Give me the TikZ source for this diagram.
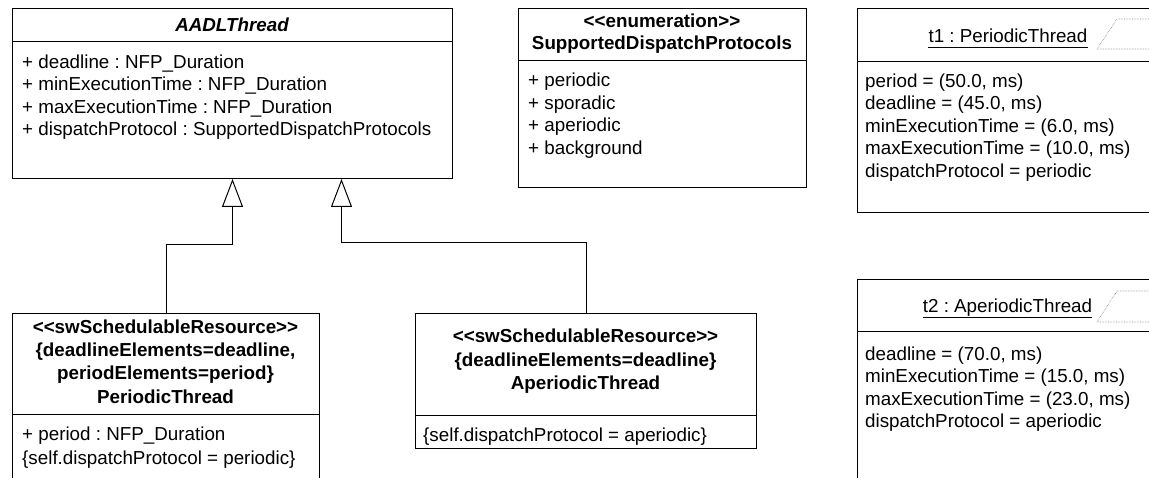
\documentclass[tikz,border=0pt]{standalone}
\usepackage{fontspec}
\setmainfont{Liberation Sans}[Ligatures=TeXOff]
\usetikzlibrary{arrows.meta}
\frenchspacing
\begin{document}
\begin{tikzpicture}[x=1pt,y=-1pt,
  umlbox/.style={draw, line width=1pt, rectangle, anchor=north west, inner sep=0pt},
  txt/.style={inner sep=0pt, anchor=base west, font=\fontsize{18.8}{22.5}\selectfont\frenchspacing},
  ctxt/.style={inner sep=0pt, anchor=base, font=\fontsize{18.8}{22.5}\selectfont\bfseries\frenchspacing},
  divider/.style={line width=1pt},
  gen/.style={line width=1pt, -{Triangle[open, length=28pt, width=21pt]}},
  para/.style={draw=gray, line width=0.6pt, densely dotted}]
\useasboundingbox (0,0) rectangle (1149,478);
\clip (0,0) rectangle (1149,478);
% boxes
\node[umlbox, minimum width=440pt, minimum height=170pt] (aadl) at (12,8) {};
\node[umlbox, minimum width=288pt, minimum height=179pt] (enum) at (518,8) {};
\node[umlbox, minimum width=320pt, minimum height=204pt] (t1) at (857,8) {};
\node[umlbox, minimum width=320pt, minimum height=230pt] (t2) at (857,279) {};
\node[umlbox, minimum width=307pt, minimum height=200pt] (pt) at (12,313) {};
\node[umlbox, minimum width=341pt, minimum height=135pt] (ap) at (415,313) {};
% dividers
\draw[divider] (aadl.west |- 0,42) -- (aadl.east |- 0,42);
\draw[divider] (enum.west |- 0,61) -- (enum.east |- 0,61);
\draw[divider] (t1.west |- 0,62) -- (t1.east |- 0,62);
\draw[divider] (t2.west |- 0,332) -- (t2.east |- 0,332);
\draw[divider] (pt.west |- 0,414) -- (pt.east |- 0,414);
\draw[divider] (ap.west |- 0,415) -- (ap.east |- 0,415);
% AADLThread
\node[ctxt, font=\fontsize{18.8}{22.5}\selectfont\bfseries\itshape] (aadlt) at (232,32) {AADLThread};
\foreach \s [count=\i] in {{+ deadline : NFP\_Duration},{+ minExecutionTime : NFP\_Duration},{+ maxExecutionTime : NFP\_Duration},{+ dispatchProtocol : SupportedDispatchProtocols}}
  \node[txt] (aadl-\i) at (22,{68.3+22.5*(\i-1)}) {\s};
% enumeration
\node[ctxt] (enums) at (662,27.7) {<<enumeration>>};
\node[ctxt] (enumt) at (662,50) {SupportedDispatchProtocols};
\foreach \s [count=\i] in {{+ periodic},{+ sporadic},{+ aperiodic},{+ background}}
  \node[txt] (enum-\i) at (528,{86.7+22.5*(\i-1)}) {\s};
% t1
\node[txt, anchor=base] (t1t) at (1008,43) {t1 : PeriodicThread};
\draw[line width=0.8pt] ([yshift=-4pt]t1t.base west) -- ([yshift=-4pt]t1t.base east);
\draw[para] (1097,49) -- (1117,19) -- (1170,19) -- (1150,49) -- cycle;
\foreach \s [count=\i] in {{period = (50.0, ms)},{deadline = (45.0, ms)},{minExecutionTime = (6.0, ms)},{maxExecutionTime = (10.0, ms)},{dispatchProtocol = periodic}}
  \node[txt] (t1-\i) at (865,{87.3+22.5*(\i-1)}) {\s};
% t2
\node[txt, anchor=base] (t2t) at (1007.5,313) {t2 : AperiodicThread};
\draw[line width=0.8pt] ([yshift=-4pt]t2t.base west) -- ([yshift=-4pt]t2t.base east);
\draw[para] (1097,322) -- (1117,291) -- (1170,291) -- (1150,322) -- cycle;
\foreach \s [count=\i] in {{deadline = (70.0, ms)},{minExecutionTime = (15.0, ms)},{maxExecutionTime = (23.0, ms)},{dispatchProtocol = aperiodic}}
  \node[txt] (t2-\i) at (865,{360+22.5*(\i-1)}) {\s};
% PeriodicThread
\foreach \s [count=\i] in {{<<swSchedulableResource>>},{\{deadlineElements=deadline,},{periodElements=period\}},{PeriodicThread}}
  \node[ctxt] (pt-\i) at (165.5,{334+23*(\i-1)}) {\s};
\node[txt] (pt-a) at (22,440.7) {+ period : NFP\_Duration};
\node[txt] (pt-b) at (22,464) {\{self.dispatchProtocol = periodic\}};
% AperiodicThread
\foreach \s [count=\i] in {{<<swSchedulableResource>>},{\{deadlineElements=deadline\}},{AperiodicThread}}
  \node[ctxt] (ap-\i) at (585.5,{343+23.3*(\i-1)}) {\s};
\node[txt] (ap-a) at (423,441.7) {\{self.dispatchProtocol = aperiodic\}};
% generalizations
\draw[gen] (pt.north) -- ++(0,-68) -| (aadl.south);
\draw[gen] (ap.north) -- ++(0,-70) -| ([xshift=109pt]aadl.south);
\end{tikzpicture}
\end{document}
